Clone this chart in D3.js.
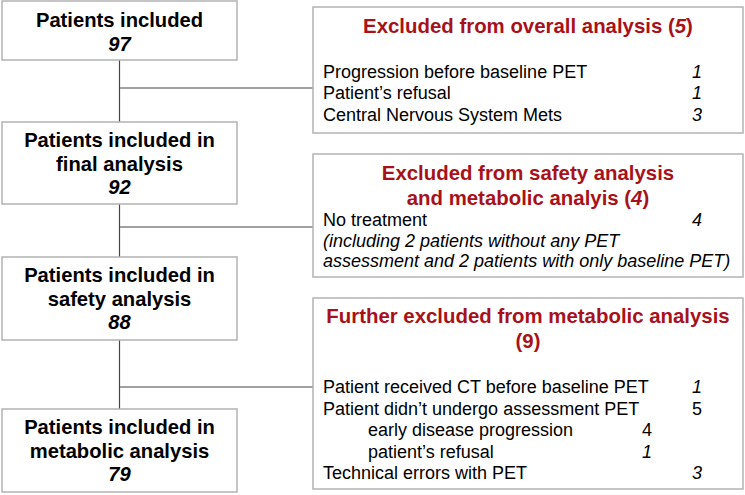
<!DOCTYPE html>
<html><head><meta charset="utf-8">
<script src="https://cdn.jsdelivr.net/npm/d3@7"></script>
<style>
html,body{margin:0;padding:0;background:#fff;}
text{font-family:"Liberation Sans",Arial,Helvetica,sans-serif;}
</style></head>
<body><svg id="c" width="745" height="495"></svg>
<script>
// ---- data ----
const mainLabels = [
  ["Patients included"],
  ["Patients included in", "final analysis"],
  ["Patients included in", "safety analysis"],
  ["Patients included in", "metabolic analysis"]
];
const mainCounts = [97, 92, 88, 79];

// title segments: [text, italic]
const exclTitles = [
  [[["Excluded from overall analysis (", false], ["5", true], [")", false]]],
  [[["Excluded from safety analysis", false]], [["and metabolic analyis (", false], ["4", true], [")", false]]],
  [[["Further excluded from metabolic analysis", false]], [["(9)", false]]]
];
// items: label, count, indent level, label italic, count italic
const exclItems = [
  [
    ["Progression before baseline PET", "1", 0, false, true],
    ["Patient\u2019s refusal", "1", 0, false, true],
    ["Central Nervous System Mets", "3", 0, false, true]
  ],
  [
    ["No treatment", "4", 0, false, true],
    ["(including 2 patients without any PET", "", 0, true, false],
    ["assessment and 2 patients with only baseline PET)", "", 0, true, false]
  ],
  [
    ["Patient received CT before baseline PET", "1", 0, false, true],
    ["Patient didn\u2019t undergo assessment PET", "5", 0, false, false],
    ["early disease progression", "4", 1, false, false],
    ["patient\u2019s refusal", "1", 1, false, true],
    ["Technical errors with PET", "3", 0, false, true]
  ]
];

// ---- layout ----
const svg = d3.select("#c");
const L = {x0: 2, x1: 237, cx: 119.5};
const mainBoxes = [
  {y0: 1, y1: 60, base: 27},
  {y0: 122, y1: 204, base: 147},
  {y0: 257, y1: 340, base: 282},
  {y0: 409, y1: 492, base: 434}
];
const R = {x0: 313, x1: 743, cx: 528, tx: 323, nx: 697, nx2: 647, indent: 45};
const exclBoxes = [
  {y0: 7, y1: 133, title: 33, tLH: 25, items: 78, iLH: 21.3, link: 88},
  {y0: 154, y1: 277, title: 180, tLH: 25, items: 226, iLH: 20.6, link: 227},
  {y0: 298, y1: 489, title: 323, tLH: 25, items: 393, iLH: 21.5, link: 387}
];
const lineCol = "#444", boxCol = "#b3b3b3", red = "#a8111a";

// connectors
const conn = svg.append("g").attr("stroke", lineCol).attr("stroke-width", 1.2).attr("fill", "none");
for (let i = 0; i < 3; i++) {
  conn.append("line").attr("x1", L.cx).attr("x2", L.cx)
    .attr("y1", mainBoxes[i].y1).attr("y2", mainBoxes[i + 1].y0);
  conn.append("line").attr("x1", L.cx).attr("x2", R.x0)
    .attr("y1", exclBoxes[i].link).attr("y2", exclBoxes[i].link);
}

// main boxes
const mg = svg.selectAll("g.main").data(mainLabels).join("g").attr("class", "main");
mg.append("rect")
  .attr("x", L.x0).attr("width", L.x1 - L.x0)
  .attr("y", (d, i) => mainBoxes[i].y0)
  .attr("height", (d, i) => mainBoxes[i].y1 - mainBoxes[i].y0)
  .attr("fill", "#fff").attr("stroke", boxCol).attr("stroke-width", 1.5);
mg.each(function (lines, i) {
  const g = d3.select(this);
  const b = mainBoxes[i];
  const all = lines.concat([String(mainCounts[i])]);
  g.selectAll("text").data(all).join("text")
    .attr("x", L.cx).attr("y", (d, j) => b.base + j * 23.7)
    .attr("text-anchor", "middle")
    .attr("font-size", 20.2).attr("font-weight", "bold")
    .attr("font-style", (d, j) => j === all.length - 1 ? "italic" : "normal")
    .attr("fill", "#000").text(d => d);
});

// exclusion boxes
const eg = svg.selectAll("g.excl").data(exclTitles).join("g").attr("class", "excl");
eg.append("rect")
  .attr("x", R.x0).attr("width", R.x1 - R.x0)
  .attr("y", (d, i) => exclBoxes[i].y0)
  .attr("height", (d, i) => exclBoxes[i].y1 - exclBoxes[i].y0)
  .attr("fill", "#fff").attr("stroke", boxCol).attr("stroke-width", 1.5);
eg.each(function (tlines, i) {
  const g = d3.select(this);
  const b = exclBoxes[i];
  const tt = g.selectAll("text.title").data(tlines).join("text").attr("class", "title")
    .attr("x", R.cx).attr("y", (d, j) => b.title + j * b.tLH)
    .attr("text-anchor", "middle").attr("font-size", 20.4).attr("font-weight", "bold")
    .attr("fill", red);
  tt.selectAll("tspan").data(d => d).join("tspan")
    .attr("font-style", d => d[1] ? "italic" : "normal").text(d => d[0]);

  const items = exclItems[i];
  g.selectAll("text.item").data(items).join("text").attr("class", "item")
    .attr("x", d => R.tx + d[2] * R.indent)
    .attr("y", (d, j) => b.items + j * b.iLH)
    .attr("font-size", 18).attr("fill", "#000")
    .attr("font-style", d => d[3] ? "italic" : "normal")
    .text(d => d[0]);
  g.selectAll("text.num").data(items.filter(d => d[1] !== "")).join("text").attr("class", "num")
    .attr("x", d => d[2] ? R.nx2 : R.nx)
    .attr("y", d => b.items + items.indexOf(d) * b.iLH)
    .attr("text-anchor", "middle")
    .attr("font-size", 18).attr("fill", "#000")
    .attr("font-style", d => d[4] ? "italic" : "normal")
    .text(d => d[1]);
});
</script>
</body></html>
